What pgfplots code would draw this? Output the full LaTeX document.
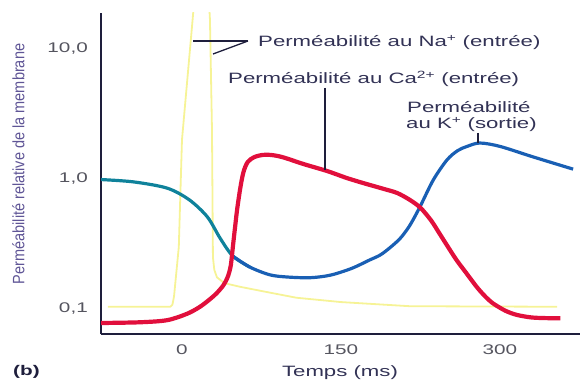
\documentclass[border=0pt]{standalone}
\usepackage{pgfplots}
\pgfplotsset{compat=1.18}
\usepackage{fontspec}
\setmainfont{Liberation Sans}
\newfontfamily\wf[FakeStretch=1.48]{Liberation Sans}
\newfontfamily\yf[FakeStretch=0.88]{Liberation Sans}
\definecolor{cred}{RGB}{225,15,60}
\definecolor{cblue}{RGB}{25,95,180}
\definecolor{cteal}{RGB}{15,130,155}
\definecolor{cyel}{RGB}{246,243,150}
\definecolor{axcol}{RGB}{30,30,60}
\definecolor{txtcol}{RGB}{50,50,85}
\definecolor{tickcol}{RGB}{85,85,95}
\definecolor{ylabcol}{RGB}{95,85,150}
\begin{document}
\begin{tikzpicture}
\path[use as bounding box] (0pt,0pt) rectangle (582pt,383pt);
\begin{axis}[
  at={(101pt,49pt)}, anchor=south west,
  scale only axis, width=479pt, height=321pt,
  xmin=-76.4, xmax=375.5,
  ymode=log, ymin=0.0642, ymax=18.9,
  axis x line=bottom, axis y line=left,
  axis line style={-, line width=1.6pt, color=axcol},
  xtick={0,150,300}, xticklabels={0,150,300},
  ytick={0.1,1,10}, yticklabels={{0,1},{1,0},{10,0}},
  yminorticks=false, xminorticks=false,
  major tick length=0pt, tick style={draw=none},
  ticklabel style={font=\wf\fontsize{14}{14}\selectfont, text=tickcol},
  yticklabel style={anchor=east, inner sep=0pt, xshift=-13pt},
  xticklabel style={anchor=north, inner sep=0pt, yshift=-11pt},
  clip=true,
]
% Na+ permeability (yellow)
\addplot[cyel, line width=1.8pt, line join=round] coordinates {
(-70,0.104) (-11,0.104) (-9,0.108) (-7.5,0.125) (-3,0.3) (0,2.0) (10,16.7) (14,40)
(24,40) (26.4,16.7) (28.3,2.4) (29.2,0.25) (30.5,0.2) (33,0.175) (40,0.158) (55,0.148)
(80,0.135) (108,0.122) (150,0.113) (215,0.105) (354,0.104)
};
% K+ permeability (teal then blue)
\addplot[cteal, line width=3.2pt, smooth, tension=0.5] coordinates {
(-77,0.99) (-46,0.95) (-14,0.85) (7,0.69) (24,0.51) (36,0.35) (48,0.255) (64,0.21)
};
\addplot[cblue, line width=3.2pt, smooth, tension=0.5] coordinates {
(48,0.255) (64,0.21) (83,0.183) (100,0.176) (121,0.174) (140,0.182) (160,0.205)
(177,0.238) (187,0.26) (196,0.295) (206,0.35) (215,0.44) (224.5,0.61) (237,0.98)
(250,1.40) (260,1.65) (269,1.78) (281,1.89) (300,1.78) (331,1.48) (369,1.19)
};
% Ca2+ permeability (red)
\addplot[cred, line width=4.2pt, smooth, tension=0.5] coordinates {
(-77,0.078) (-40,0.079) (-14,0.082) (5,0.092) (17,0.104) (27,0.120) (33,0.133)
(39,0.152) (43,0.175) (46,0.215) (48,0.30) (50,0.42) (52,0.58) (55,0.85) (58,1.13)
(62,1.35) (68,1.47) (76,1.53) (84,1.53) (95,1.47) (115,1.30) (137,1.15) (155,1.02)
(171,0.93) (190,0.84) (203,0.78) (215,0.69) (225,0.60) (235,0.48) (243,0.38)
(251,0.30) (259,0.238) (268,0.19) (278,0.148) (286,0.125) (293,0.111) (305,0.097)
(316,0.090) (330,0.086) (345,0.085) (357,0.085)
};
\end{axis}
% leader lines
\draw[line width=1.3pt, color=axcol] (193pt,342pt) -- (248pt,342pt);
\draw[line width=1.3pt, color=axcol] (213pt,329pt) -- (248pt,342pt);
\draw[line width=1.3pt, color=axcol] (325pt,295pt) -- (325pt,213pt);
\draw[line width=1.3pt, color=axcol] (478pt,250pt) -- (478pt,240pt);
% labels
\node[anchor=base west, inner sep=0pt, text=txtcol, font=\wf\fontsize{15}{15}\selectfont] at (258pt,336pt) {Perméabilité au Na\textsuperscript{+} (entrée)};
\node[anchor=base west, inner sep=0pt, text=txtcol, font=\wf\fontsize{15}{15}\selectfont] at (228pt,299pt) {Perméabilité au Ca\textsuperscript{2+} (entrée)};
\node[anchor=base west, inner sep=0pt, text=txtcol, font=\wf\fontsize{15}{15}\selectfont] at (407pt,270pt) {Perméabilité};
\node[anchor=base west, inner sep=0pt, text=txtcol, font=\wf\fontsize{15}{15}\selectfont] at (406pt,254pt) {au K\textsuperscript{+} (sortie)};
\node[anchor=base, inner sep=0pt, text=txtcol, font=\wf\fontsize{15}{15}\selectfont] at (340pt,6pt) {Temps (ms)};
\node[anchor=base west, inner sep=0pt, text=axcol, font=\wf\bfseries\fontsize{14}{14}\selectfont] at (13pt,7pt) {(b)};
\node[rotate=90, inner sep=0pt, text=ylabcol, font=\yf\fontsize{16.5}{16.5}\selectfont] at (18.5pt,219pt) {Perméabilité relative de la membrane};
\end{tikzpicture}
\end{document}
